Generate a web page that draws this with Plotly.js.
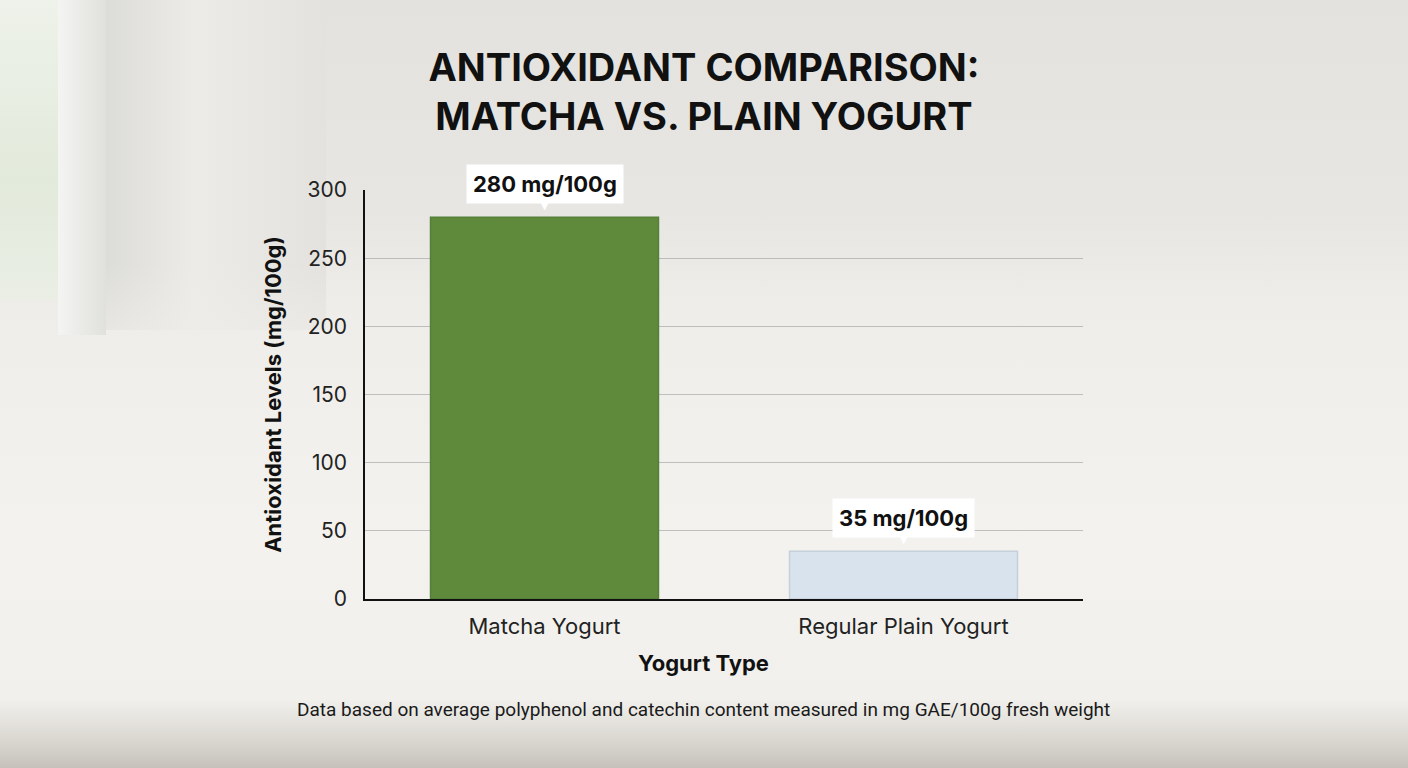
<!DOCTYPE html>
<html>
<head>
<meta charset="utf-8">
<script src="https://cdn.plot.ly/plotly-3.0.1.min.js"></script>
<style>
  html, body { margin: 0; padding: 0; }
  body {
    width: 1408px; height: 768px; overflow: hidden; position: relative;
    background: linear-gradient(180deg, #e3e2de 0%, #e7e6e2 28%, #eeede9 40%, #f3f2ee 70%, #f1f0ec 91%, #dcd9d3 96%, #c6c2bb 100%);
  }
  .bg { position: absolute; }
  #window { left: 0; top: 0; width: 58px; height: 300px;
    background: linear-gradient(180deg, #eef2ea 0%, #e2eadb 60%, #eaeee5 100%); }
  #frame { left: 58px; top: 0; width: 48px; height: 335px;
    background: linear-gradient(90deg, #f4f5f3, #e0e0dc); }
  #wall_shadow { left: 106px; top: 0; width: 220px; height: 330px;
    background: linear-gradient(180deg, rgba(0,0,0,0) 0%, rgba(0,0,0,0) 80%, rgba(238,237,233,0.6) 100%),
                linear-gradient(90deg, #dcdcd8 0%, #ecebe8 40%, #e3e2df 100%); }
  #chart { position: absolute; left: 0; top: 0; width: 1408px; height: 768px; }
</style>
</head>
<body>
<div class="bg" id="window"></div>
<div class="bg" id="frame"></div>
<div class="bg" id="wall_shadow"></div>
<div id="chart"></div>
<script type="text/javascript">

    /* * Data * */
    var categories = ['Matcha Yogurt', 'Regular Plain Yogurt'];
    var antioxidant_values = [280, 35];
    var value_labels = ['280 mg/100g', '35 mg/100g'];
    var bar_colors = ['#5f8a3c', '#d9e3ed'];
    var y_ticks = [0, 50, 100, 150, 200, 250, 300];

    var chart_container = document.getElementById('chart');
    var base_font = 'Inter, "Open Sans", sans-serif';

    var data = [{
        x: categories,
        y: antioxidant_values,
        type: 'bar',
        width: 0.635,
        marker: {
            color: bar_colors,
            line: { color: ['#55803a', '#c6d0db'], width: 1.5 }
        },
        hoverinfo: 'x+y'
    }];

    /* * Value callouts (box + little pointer) * */
    var annotations = [];
    for (var i = 0; i < categories.length; i++) {
        annotations.push({
            x: categories[i], y: antioxidant_values[i],
            xref: 'x', yref: 'y',
            text: '<b>' + value_labels[i] + '</b>',
            showarrow: false,
            yanchor: 'bottom', yshift: 13,
            bgcolor: '#ffffff', borderpad: 6,
            bordercolor: 'rgba(0,0,0,0)',
            font: { family: base_font, size: 22, color: '#111111' }
        });
        annotations.push({
            x: categories[i], y: antioxidant_values[i],
            xref: 'x', yref: 'y',
            text: '▼',
            showarrow: false,
            yanchor: 'bottom', yshift: 3,
            font: { family: 'DejaVu Sans', size: 12, color: '#ffffff' }
        });
    }

    annotations.push({
        x: 0.472, y: -0.156, xref: 'paper', yref: 'paper',
        text: '<b>Yogurt Type</b>', showarrow: false,
        xanchor: 'center', yanchor: 'middle',
        font: { family: base_font, size: 22, color: '#111111' }
    });
    annotations.push({
        x: 0.472, y: -0.269, xref: 'paper', yref: 'paper',
        text: 'Data based on average polyphenol and catechin content measured in mg GAE/100g fresh weight',
        showarrow: false, xanchor: 'center', yanchor: 'middle',
        font: { family: 'Roboto, sans-serif', size: 19, color: '#1a1a1a' }
    });

    var layout = {
        width: 1408, height: 768,
        paper_bgcolor: 'rgba(0,0,0,0)',
        plot_bgcolor: 'rgba(0,0,0,0)',
        margin: { l: 365, r: 325, t: 190, b: 169 },
        showlegend: false,
        title: {
            text: '<b>ANTIOXIDANT COMPARISON:<br>MATCHA VS. PLAIN YOGURT</b>',
            x: 0.5, xanchor: 'center',
            y: 0.895, yanchor: 'top',
            font: { family: base_font, size: 38, color: '#111111' }
        },
        xaxis: {
            type: 'category',
            showline: true, linecolor: '#111111', linewidth: 1.5,
            showgrid: false, ticks: '',
            ticklabelstandoff: 7,
            tickfont: { family: base_font, size: 22, color: '#222222' }
        },
        yaxis: {
            range: [0, 300],
            tickvals: y_ticks,
            showline: true, linecolor: '#111111', linewidth: 1.5,
            showgrid: true, gridcolor: 'rgba(150,150,150,0.55)', gridwidth: 1,
            zeroline: false, ticks: '',
            ticklabelstandoff: 12,
            tickfont: { family: base_font, size: 21, color: '#222222' },
            title: {
                text: '<b>Antioxidant Levels (mg/100g)</b>',
                standoff: 20,
                font: { family: base_font, size: 22, color: '#111111' }
            }
        },
        annotations: annotations
    };

    Plotly.newPlot(chart_container, data, layout, { displayModeBar: false });

</script>
</body>
</html>
